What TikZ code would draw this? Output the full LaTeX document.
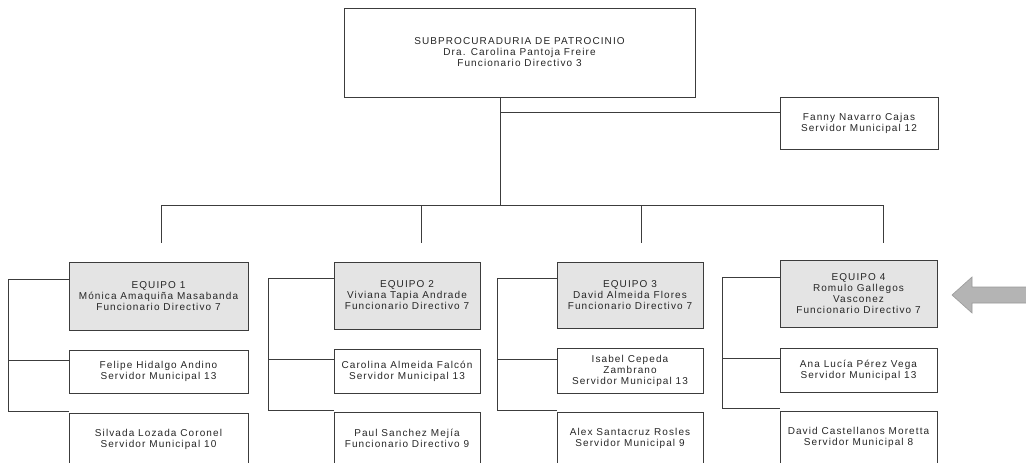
\documentclass[tikz,border=0pt]{standalone}
\usepackage{fontspec}
\setmainfont{Liberation Sans}[LetterSpace=11]
\definecolor{inkc}{HTML}{262626}
\definecolor{linec}{HTML}{3C3C3C}
\definecolor{headfill}{HTML}{E4E4E4}
\definecolor{arrowfill}{HTML}{B4B4B4}
\definecolor{arrowedge}{HTML}{9A9A9A}
\tikzset{
  box/.style={draw=linec, line width=0.8pt, fill=white, align=center, inner sep=1pt,
    text=inkc, font=\fontsize{10}{11}\selectfont},
  headbox/.style={box, fill=headfill},
  wire/.style={draw=linec, line width=0.8pt},
}
\begin{document}
\begin{tikzpicture}[x=1pt,y=-1pt]
\useasboundingbox (0,0) rectangle (1026,463);
\clip (0,0) rectangle (1026,463);
\fill[white] (0,0) rectangle (1026,463);

% top
\node[box, minimum width=351, minimum height=89] (main) at (519.5,52.5)
  {SUBPROCURADURIA DE PATROCINIO\\Dra. Carolina Pantoja Freire\\Funcionario Directivo 3};
\node[box, minimum width=158, minimum height=52] (fanny) at (859,123)
  {Fanny Navarro Cajas\\Servidor Municipal 12};

% teams
\node[headbox, minimum width=179, minimum height=68] (e1) at (158.5,296)
  {EQUIPO 1\\Mónica Amaquiña Masabanda\\Funcionario Directivo 7};
\node[box, minimum width=179, minimum height=43] (f1) at (158.5,371.5)
  {Felipe Hidalgo Andino\\Servidor Municipal 13};
\node[box, minimum width=179, minimum height=53] (s1) at (158.5,439.5)
  {Silvada Lozada Coronel\\Servidor Municipal 10};

\node[headbox, minimum width=146, minimum height=67] (e2) at (407,295.5)
  {EQUIPO 2\\Viviana Tapia Andrade\\Funcionario Directivo 7};
\node[box, minimum width=146, minimum height=44] (c2) at (407,371)
  {Carolina Almeida Falcón\\Servidor Municipal 13};
\node[box, minimum width=146, minimum height=53] (p2) at (407,438.5)
  {Paul Sanchez Mejía\\Funcionario Directivo 9};

\node[headbox, minimum width=146, minimum height=66] (e3) at (630,295)
  {EQUIPO 3\\David Almeida Flores\\Funcionario Directivo 7};
\node[box, minimum width=146, minimum height=45] (i3) at (630,370.5)
  {Isabel Cepeda\\Zambrano\\Servidor Municipal 13};
\node[box, minimum width=146, minimum height=53] (a3) at (630,438.5)
  {Alex Santacruz Rosles\\Servidor Municipal 9};

\node[headbox, minimum width=157, minimum height=67] (e4) at (858.5,293.5)
  {EQUIPO 4\\Romulo Gallegos\\Vasconez\\Funcionario Directivo 7};
\node[box, minimum width=157, minimum height=44] (l4) at (858.5,370)
  {Ana Lucía Pérez Vega\\Servidor Municipal 13};
\node[box, minimum width=157, minimum height=53] (dc4) at (858.5,437.5)
  {David Castellanos Moretta\\Servidor Municipal 8};

% top connectors
\coordinate (hub) at (500,205);
\coordinate (fj) at (500,112);
\draw[wire] (main.south -| hub) -- (hub);
\draw[wire] (fj) -- (fj -| fanny.west);
\coordinate (t1) at (161,205);
\coordinate (t2) at (421,205);
\coordinate (t3) at (641,205);
\coordinate (t4) at (883,205);
\coordinate (t1e) at (161,243);
\coordinate (t2e) at (421,243);
\coordinate (t3e) at (641,243);
\coordinate (t4e) at (883,243);
\draw[wire] (t1) -- (t4);
\draw[wire] (t1) -- (t1e);
\draw[wire] (t2) -- (t2e);
\draw[wire] (t3) -- (t3e);
\draw[wire] (t4) -- (t4e);

% team brackets
\coordinate (b1) at (8,279);
\draw[wire] (b1 -| e1.west) -- (b1) |- ([yshift=1]s1.north west);
\draw[wire] (b1 |- 0,360) -- (f1.west |- 0,360);
\coordinate (b2) at (268,278);
\draw[wire] (b2 -| e2.west) -- (b2) |- ([yshift=1]p2.north west);
\draw[wire] (b2 |- 0,359) -- (c2.west |- 0,359);
\coordinate (b3) at (497,278);
\draw[wire] (b3 -| e3.west) -- (b3) |- ([yshift=1]a3.north west);
\draw[wire] (b3 |- 0,359) -- (i3.west |- 0,359);
\coordinate (b4) at (722,277);
\draw[wire] (b4 -| e4.west) -- (b4) |- ([yshift=2]dc4.north west);
\draw[wire] (b4 |- 0,358) -- (l4.west |- 0,358);

% block arrow
\draw[draw=arrowedge, fill=arrowfill, line width=0.6pt]
  (952,295) -- (972,277) -- (972,287) -- (1030,287) -- (1030,303)
  -- (972,303) -- (972,313) -- cycle;
\end{tikzpicture}
\end{document}
